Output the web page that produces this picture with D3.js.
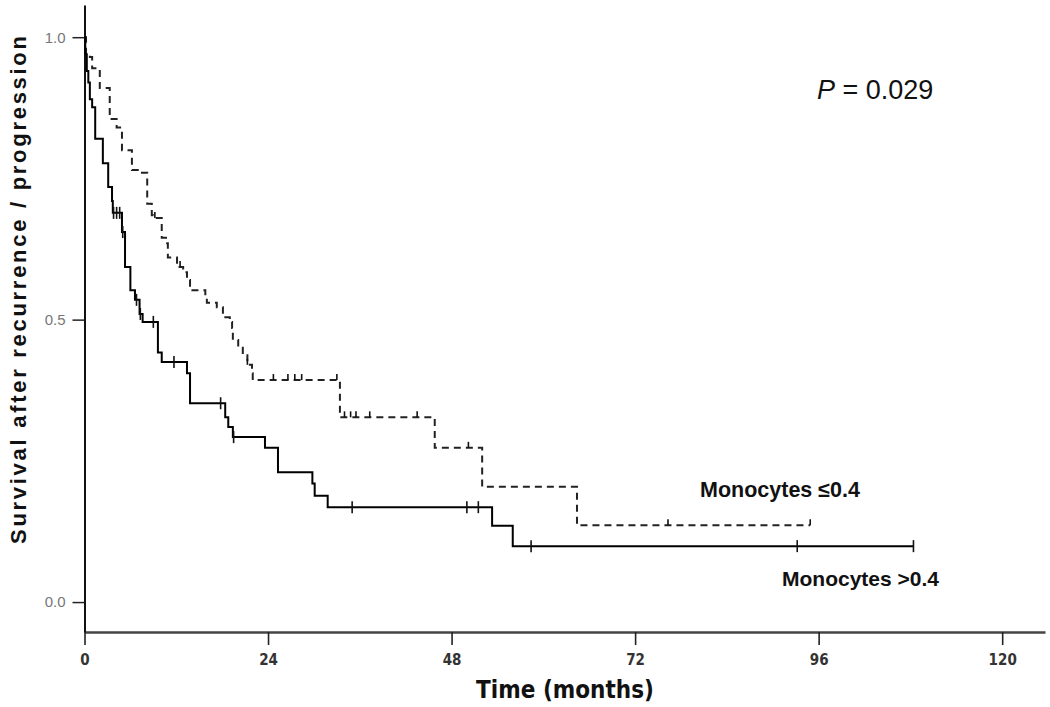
<!DOCTYPE html>
<html><head><meta charset="utf-8">
<script src="https://cdn.jsdelivr.net/npm/d3@7"></script>
<style>body{margin:0;background:#fff}</style>
</head><body><svg id="c" width="1050" height="707"></svg>
<script>
const xTicks = [0, 24, 48, 72, 96, 120];
const yTicks = [0.0, 0.5, 1.0];
const xTitle = "Time (months)";
const yTitle = "Survival after recurrence / progression";
const pText = "0.029";

// Monocytes ≤0.4 (dashed)
const lowLabel = "Monocytes ≤0.4";
const lowTimes = [0, 0.2, 0.7, 1.0, 2.0, 3.3, 4.2, 4.9, 6.2, 7.3, 8.2, 8.8, 9.0, 10.1, 10.8, 10.9, 12.1, 12.9, 13.4, 13.8, 15.8, 16.0, 17.3, 18.1, 19.0, 19.3, 19.4, 20.1, 20.7, 21.3, 21.9, 22.0, 33.4, 45.8, 52.0, 64.4];
const lowSurv  = [1.0, 0.97, 0.965, 0.945, 0.91, 0.855, 0.84, 0.80, 0.765, 0.76, 0.705, 0.685, 0.68, 0.645, 0.635, 0.61, 0.593, 0.584, 0.57, 0.552, 0.54, 0.53, 0.522, 0.504, 0.496, 0.485, 0.464, 0.45, 0.437, 0.42, 0.405, 0.393, 0.327, 0.273, 0.204, 0.136];
const lowCensor = [9.2, 12.5, 21.3, 24.7, 26.6, 27.5, 28.4, 33.0, 34.0, 34.8, 35.5, 37.3, 43.5, 50.2, 76.3, 94.9];
const lowEnd = 94.9;

// Monocytes >0.4 (solid)
const highLabel = "Monocytes >0.4";
const highTimes = [0, 0.1, 0.3, 0.5, 0.7, 1.0, 1.4, 2.4, 3.1, 3.6, 3.7, 4.9, 5.3, 6.0, 6.6, 7.2, 7.6, 9.6, 10.1, 13.4, 13.8, 18.4, 18.8, 19.4, 23.6, 25.3, 29.8, 30.1, 31.8, 53.3, 56.0];
const highSurv  = [1.0, 0.97, 0.94, 0.92, 0.89, 0.876, 0.82, 0.777, 0.735, 0.71, 0.689, 0.655, 0.593, 0.552, 0.535, 0.51, 0.496, 0.442, 0.425, 0.405, 0.352, 0.327, 0.31, 0.292, 0.273, 0.23, 0.21, 0.188, 0.168, 0.135, 0.099];
const highCensor = [3.8, 4.2, 4.6, 5.0, 6.8, 7.3, 9.0, 11.7, 17.8, 19.5, 35.0, 50.0, 51.5, 58.4, 93.2, 108.4];
const highEnd = 108.4;

const svg = d3.select("#c");
const x = d3.scaleLinear().domain([0, 125.6]).range([84.5, 1045]);
const y = d3.scaleLinear().domain([-0.053, 1.057]).range([632, 5]);

// axes
const xAxis = d3.axisBottom(x).tickValues(xTicks).tickSize(13).tickSizeOuter(0).tickPadding(9);
const gx = svg.append("g").attr("transform", "translate(0,632)").call(xAxis);
gx.select(".domain").attr("stroke", "#444").attr("stroke-width", 2.6);
gx.selectAll(".tick line").attr("stroke", "#222").attr("stroke-width", 1.6);
gx.selectAll(".tick text").attr("fill", "#333")
  .style("font-family", "'Liberation Sans Narrow','DejaVu Sans Condensed',sans-serif")
  .style("font-weight", "bold").style("font-size", "15px");

const yAxis = d3.axisLeft(y).tickValues(yTicks).tickFormat(d3.format(".1f")).tickSize(12).tickSizeOuter(0).tickPadding(7);
const gy = svg.append("g").attr("transform", "translate(84.5,0)").call(yAxis);
gy.select(".domain").attr("stroke", "#111").attr("stroke-width", 2);
gy.selectAll(".tick line").attr("stroke", "#222").attr("stroke-width", 1.5);
gy.selectAll(".tick text").attr("fill", "#777")
  .style("font-family", "'Liberation Sans',Arial,sans-serif").style("font-size", "15px");

// titles
svg.append("text").attr("x", 565).attr("y", 698).attr("text-anchor", "middle")
  .style("font-family", "'Liberation Sans Narrow','DejaVu Sans Condensed',sans-serif")
  .style("font-weight", "bold").style("font-size", "24px").attr("fill", "#111").text(xTitle);
svg.append("text").attr("transform", "translate(26,290) rotate(-90)").attr("text-anchor", "middle")
  .attr("textLength", 508).attr("lengthAdjust", "spacing")
  .style("font-family", "'Liberation Sans',Arial,sans-serif")
  .style("font-weight", "bold").style("font-size", "22px").attr("fill", "#111").text(yTitle);

// P value
const pt = svg.append("text").attr("x", 817).attr("y", 99)
  .style("font-family", "'Liberation Sans',Arial,sans-serif").style("font-size", "27px").attr("fill", "#111");
pt.append("tspan").style("font-style", "italic").text("P");
pt.append("tspan").text(" = " + pText);

// curves
function stepAt(times, surv, t) {
  let s = surv[0];
  for (let i = 0; i < times.length; i++) if (times[i] <= t) s = surv[i];
  return s;
}
const line = d3.line().x(d => x(d[0])).y(d => y(d[1])).curve(d3.curveStepAfter);

function drawCurve(times, surv, end, censor, dashed) {
  const pts = times.map((t, i) => [t, surv[i]]);
  pts.push([end, surv[surv.length - 1]]);
  svg.append("path").datum(pts).attr("d", line).attr("fill", "none")
    .attr("stroke", dashed ? "#222" : "#000").attr("stroke-width", 2)
    .attr("stroke-dasharray", dashed ? "7,5" : null);
  svg.append("g").selectAll("line").data(censor).join("line")
    .attr("x1", d => x(d)).attr("x2", d => x(d))
    .attr("y1", d => y(stepAt(times, surv, d)) - 6)
    .attr("y2", d => y(stepAt(times, surv, d)) + (dashed ? 0 : 6))
    .attr("stroke", "#111").attr("stroke-width", 1.6);
}
drawCurve(lowTimes, lowSurv, lowEnd, lowCensor, true);
drawCurve(highTimes, highSurv, highEnd, highCensor, false);

// labels
svg.append("text").attr("x", 700).attr("y", 497)
  .style("font-family", "'Liberation Sans',Arial,sans-serif").style("font-weight", "bold").style("font-size", "21.5px")
  .attr("fill", "#111").text(lowLabel);
svg.append("text").attr("x", 782).attr("y", 586)
  .style("font-family", "'Liberation Sans',Arial,sans-serif").style("font-weight", "bold").style("font-size", "21px")
  .attr("fill", "#111").text(highLabel);
</script>
</body></html>
